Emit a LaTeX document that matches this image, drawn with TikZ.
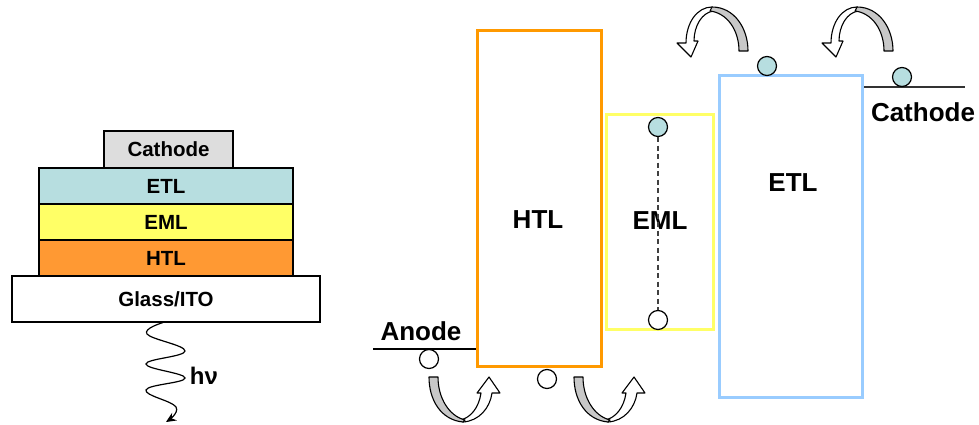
\documentclass[tikz,border=0pt]{standalone}
\usepackage{fontspec}
\setmainfont{Liberation Sans}
\usetikzlibrary{arrows.meta}
\definecolor{etlfill}{HTML}{B7DEE0}
\definecolor{emlfill}{HTML}{FFFF66}
\definecolor{htlfill}{HTML}{FF9933}
\definecolor{cathfill}{HTML}{DDDDDD}
\definecolor{htlline}{HTML}{FF9900}
\definecolor{emlline}{HTML}{FFFF66}
\definecolor{etlline}{HTML}{99CCFF}
\definecolor{arrowgray}{HTML}{C8C8C8}
\tikzset{
 uarrow/.pic={
  \draw[line width=1.1pt, fill=white, line join=round] (0,0) .. controls (16,-1) and (27,-14) .. (29,-29) -- (37,-29) -- (26,-45) -- (14,-29) -- (18,-29) .. controls (16,-15) and (8,-4) .. (-3,-2) -- cycle;
  \draw[line width=1.1pt, fill=arrowgray, line join=round] (0,0) .. controls (-22,-2) and (-34,-22) .. (-34,-45) -- (-25,-45) .. controls (-25,-24) and (-14,-6) .. (2,-2) -- cycle;
 },
 arcarrow/.pic={
  \draw[line width=1.1pt, fill=white, line join=round] (0,-1) .. controls (-15,-1) and (-26,15) .. (-26,35) -- (-35,35) -- (-21,49) -- (-14,33) -- (-18,33) .. controls (-18,18) and (-10,4) .. (2,3) -- cycle;
  \draw[line width=1.1pt, fill=arrowgray, line join=round] (0,-1) .. controls (22,-1) and (36,20) .. (36,43) -- (27,43) .. controls (27,22) and (15,5) .. (-2,3) -- cycle;
 }
}
\begin{document}
\begin{tikzpicture}[x=1pt,y=-1pt,
 layer/.style={draw=black, line width=1.1pt, inner sep=0pt, minimum height=36pt, minimum width=254pt, font=\fontsize{20.5}{24}\selectfont\bfseries},
 band/.style={line width=3.5pt, inner sep=0pt},
 lab/.style={font=\fontsize{26}{30}\selectfont\bfseries, inner sep=0pt},
 elec/.style={circle, draw=black, line width=1.2pt, minimum size=19pt, inner sep=0pt, fill=etlfill},
 hole/.style={circle, draw=black, line width=1.2pt, minimum size=19pt, inner sep=0pt, fill=white},
 level/.style={draw=black!80, line width=1.6pt},
 ]
\useasboundingbox (0,0) rectangle (979,425);

% ---- device stack ----
\node[layer, fill=cathfill, minimum width=129pt, minimum height=37pt] (cath) at (168.5,149.5) {Cathode};
\node[layer, fill=etlfill] (etl) at (166,186) {ETL};
\node[layer, fill=emlfill] (eml) at (166,222) {EML};
\node[layer, fill=htlfill] (htl) at (166,258) {HTL};
\node[layer, fill=white, minimum width=308pt, minimum height=46pt] (glass) at (166,299) {Glass/ITO};

\coordinate (w0) at ([xshift=-3pt]glass.south);
\coordinate (w1) at (166,422);
\draw[line width=1.2pt, -{Stealth[length=10pt,width=9pt]}] plot[smooth, tension=0.7] coordinates {(w0) (147,334) (185,351) (146,364) (185,378) (146,390) (176,407) (w1)};
\node[font=\fontsize{24}{28}\selectfont\bfseries, inner sep=0pt] (hv) at (204,376) {hν};

% ---- energy diagram ----
\node[band, draw=htlline, minimum width=124pt, minimum height=336pt] (htlbox) at (539.5,198.5) {};
\node[band, draw=emlline, minimum width=107pt, minimum height=215pt] (emlbox) at (660,222) {};
\node[band, draw=etlline, minimum width=143pt, minimum height=322pt] (etlbox) at (791,236.5) {};

\node[lab] (htltxt) at (538,220) {HTL};
\node[lab] (emltxt) at (660,221) {EML};
\node[lab] (etltxt) at (793,183) {ETL};
\node[lab] (anode) at (421,331) {Anode};
\node[lab] (cathode) at (923,112) {Cathode};

\coordinate (anL) at (373,349);
\draw[level, draw=black] (anL) -- (anL -| htlbox.west);
\coordinate (caR) at (965,87);
\draw[level] (caR -| etlbox.east) -- (caR);

\node[hole] (h0) at (429,359) {};
\node[hole] (h1) at (547,379) {};
\node[hole] (h2) at (658,320) {};
\node[elec] (e2) at (658,127) {};
\node[elec] (e1) at (767,66) {};
\node[elec] (e0) at (902,77) {};
\draw[black!75, line width=1.4pt, dash pattern=on 5pt off 3.5pt] (e2) -- (h2);

\pic at (463,422) {uarrow};
\pic at (608,422) {uarrow};
\pic at (712,8) {arcarrow};
\pic at (857,8) {arcarrow};
\end{tikzpicture}
\end{document}
